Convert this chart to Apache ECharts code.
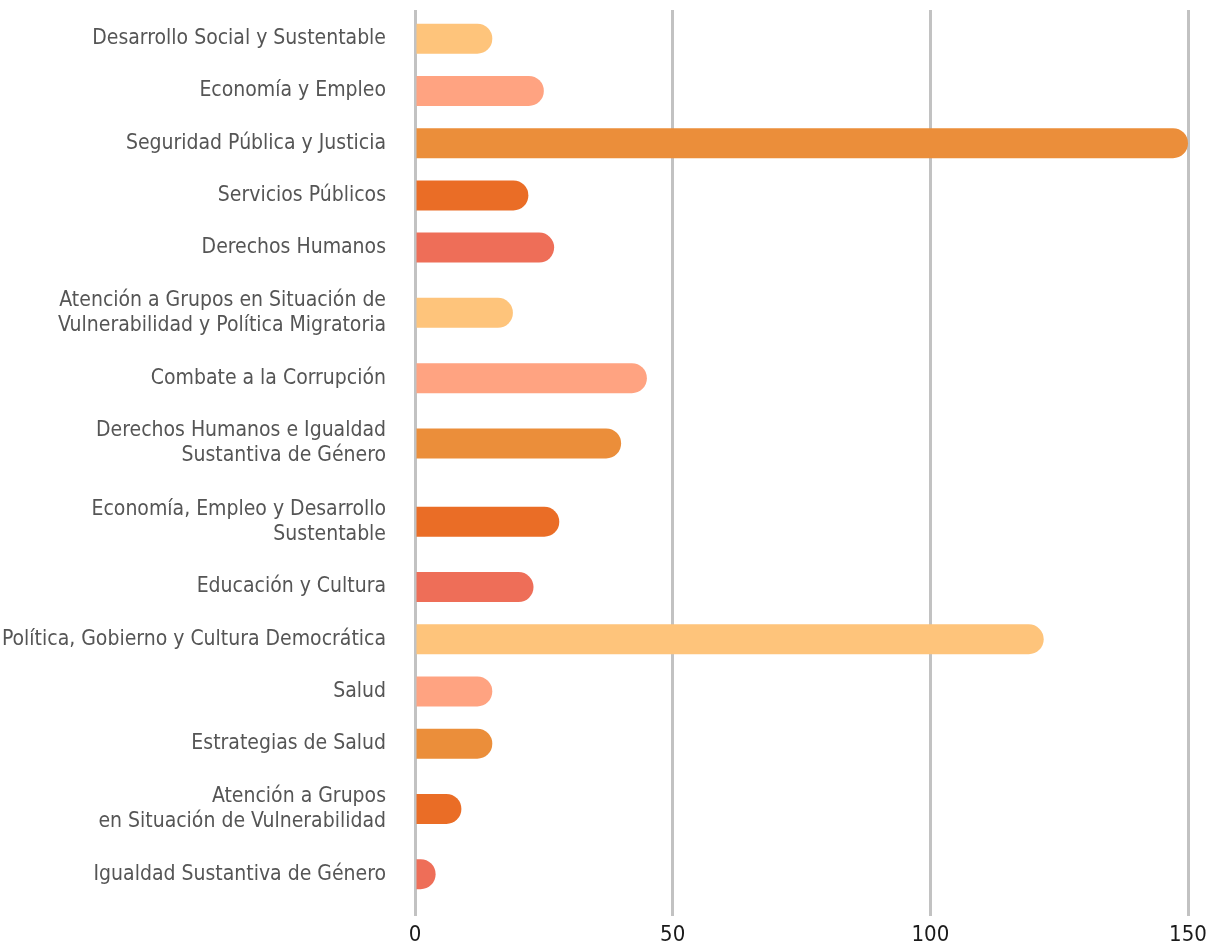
<!DOCTYPE html>
<html>
<head>
<meta charset="utf-8">
<script src="https://cdn.jsdelivr.net/npm/echarts@6/dist/echarts.min.js"></script>
<style>
  html, body { margin: 0; padding: 0; background: #fff; }
  #chart { width: 1217px; height: 946px; }
</style>
</head>
<body>
<div id="chart"></div>
<script>
// categorías (en orden, de arriba hacia abajo)
const categories = [
  'Desarrollo Social y Sustentable',
  'Economía y Empleo',
  'Seguridad Pública y Justicia',
  'Servicios Públicos',
  'Derechos Humanos',
  'Atención a Grupos en Situación de\nVulnerabilidad y Política Migratoria',
  'Combate a la Corrupción',
  'Derechos Humanos e Igualdad\nSustantiva de Género',
  'Economía, Empleo y Desarrollo\nSustentable',
  'Educación y Cultura',
  'Política, Gobierno y Cultura Democrática',
  'Salud',
  'Estrategias de Salud',
  'Atención a Grupos\nen Situación de Vulnerabilidad',
  'Igualdad Sustantiva de Género'
]

// valores
const values = [15, 25, 150, 22, 27, 19, 45, 40, 28, 23, 122, 15, 15, 9, 4]

// colores de las barras (se repiten cada 5)
const palette = ['#FEC47B', '#FFA381', '#EB8E3A', '#EA6D26', '#EE6E58']

// marcas del eje x
const xTicks = [0, 50, 100, 150]

// cada fila ocupa (líneas + 1) unidades: las etiquetas de dos líneas dejan más espacio
const rowPos = []
let acc = 0
categories.forEach((c) => {
  const h = c.split('\n').length + 1
  rowPos.push(acc + h / 2)
  acc += h
})
const labelByPos = new Map(rowPos.map((p, i) => [p, categories[i]]))

const FONT = '"Liberation Sans Narrow", "DejaVu Sans Condensed", Roboto, sans-serif'
const BAR_H = 30

const chart = echarts.init(document.getElementById('chart'))

chart.setOption({
  animation: false,
  grid: {
    left: 415,
    right: 29,
    top: 10,
    bottom: 30,
    outerBoundsMode: 'none'
  },
  xAxis: {
    type: 'value',
    min: xTicks[0],
    max: xTicks[xTicks.length - 1],
    interval: xTicks[1] - xTicks[0],
    axisLine: { show: false },
    axisTick: { show: false },
    axisLabel: {
      fontFamily: FONT,
      fontSize: 22,
      color: '#1a1a1a',
      margin: 8
    },
    splitLine: {
      show: true,
      lineStyle: { color: '#c2c2c2', width: 3 }
    }
  },
  yAxis: {
    type: 'value',
    inverse: true,
    min: -0.1,
    max: acc + 0.6,
    axisLine: { show: false },
    axisTick: { show: false },
    splitLine: { show: false },
    axisLabel: {
      customValues: rowPos,
      formatter: (v) => labelByPos.get(v) || '',
      fontFamily: FONT,
      fontSize: 21,
      lineHeight: 25,
      color: '#555555',
      margin: 29,
      align: 'right'
    }
  },
  series: [
    {
      type: 'custom',
      data: values.map((v, i) => [v, rowPos[i]]),
      encode: { x: 0, y: 1 },
      renderItem: (params, api) => {
        const start = api.coord([0, api.value(1)])
        const end = api.coord([api.value(0), api.value(1)])
        const w = end[0] - start[0] - 1.5
        const r = Math.min(BAR_H / 2, w)
        return {
          type: 'rect',
          shape: {
            x: start[0] + 1.5,
            y: start[1] - BAR_H / 2,
            width: w,
            height: BAR_H,
            r: [0, r, r, 0]
          },
          style: { fill: palette[params.dataIndex % palette.length] }
        }
      }
    }
  ]
})
</script>
</body>
</html>
